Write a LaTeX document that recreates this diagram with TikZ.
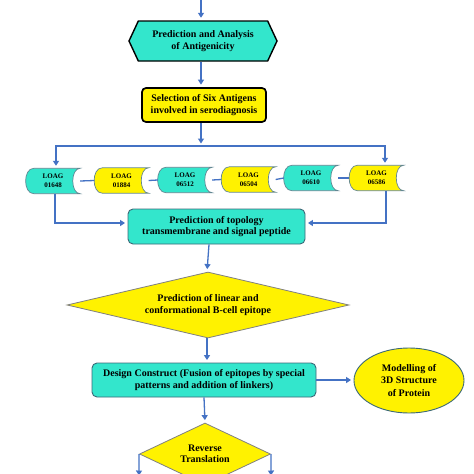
\documentclass[tikz,border=0pt]{standalone}
\usepackage{fontspec}
\setmainfont{Liberation Serif}
\usetikzlibrary{shapes.geometric,shapes.symbols,arrows.meta,backgrounds}
\definecolor{aqua}{RGB}{51,230,204}
\definecolor{flowblue}{RGB}{68,114,196}
\definecolor{edgegray}{RGB}{60,105,120}
\tikzset{
  txt/.style={align=center, inner sep=0pt, font=\bfseries\fontsize{10}{11.5}\selectfont},
  flow/.style={draw=flowblue, line width=1.3pt, shorten >=2.5pt, -{Triangle[width=6pt,length=5pt]}},
  link/.style={draw=flowblue, line width=1.3pt},
  box/.style={txt, rectangle, rounded corners=5pt, draw=edgegray, line width=0.9pt, fill=aqua},
  loag/.style={txt, font=\bfseries\fontsize{7}{9}\selectfont, minimum width=54pt, minimum height=25pt}
}
\begin{document}
\begin{tikzpicture}[x=1pt,y=-1pt]
  \clip (0,0) rectangle (474,474);
  \begin{pgfonlayer}{background}
    \fill[white] (0,0) rectangle (474,474);
  \end{pgfonlayer}
  \coordinate (start) at (201,0);
  \node [txt, signal, signal to=west and east, signal pointer angle=130, draw=black, line width=1.4pt, fill=aqua, minimum width=148pt, minimum height=40pt] (anal) at (203,41) {Prediction and Analysis\\of Antigenicity};
  \node [txt, rectangle, rounded corners=4pt, draw=black, line width=1.7pt, fill=yellow, minimum width=124pt, minimum height=34pt] (sel) at (204,105) {Selection of Six Antigens\\involved in serodiagnosis};
  \coordinate (split) at (201,146);
  % six antigens
  \foreach \n/\x/\y/\c/\num in {l1/53/181/aqua/01648, l2/121.5/180.5/yellow/01884, l3/185/180/aqua/06512, l4/248.5/179.5/yellow/06504, l5/311/178/aqua/06610, l6/376.5/178/yellow/06586}{
    \node [loag] (\n) at (\x,\y) {LOAG\\\num};
    \begin{pgfonlayer}{background}
      \draw [draw=edgegray!80, line width=0.7pt, fill=\c] ([xshift=8pt]\n.north west) to[out=180,in=180,looseness=1.1] ([xshift=8pt]\n.south west) -- (\n.south east) to[out=180,in=180] (\n.north east) -- cycle;
    \end{pgfonlayer}
  }
  \node [box, minimum width=177pt, minimum height=35pt] (topo) at (216.5,226.5) {Prediction of topology\\transmembrane and signal peptide};
  \node [txt, diamond, shape aspect=4.27, draw=gray, line width=0.8pt, fill=yellow, minimum width=282pt, minimum height=66pt] (epi) at (208,305) {Prediction of linear and\\conformational B-cell epitope};
  \node [box, minimum width=224pt, minimum height=34pt] (design) at (204,380) {Design Construct (Fusion of epitopes by special\\patterns and addition of linkers)};
  \node [txt, font=\bfseries\fontsize{10}{12.5}\selectfont, ellipse, draw=edgegray, line width=0.9pt, fill=yellow, minimum width=110pt, minimum height=65pt] (model) at (409,380.5) {Modelling of\\3D Structure\\of Protein};
  \node [txt, diamond, shape aspect=2.1, draw=gray, line width=0.8pt, fill=yellow, minimum width=131pt, minimum height=62pt] (rev) at (205,454) {Reverse\\Translation};
  \coordinate (outl) at (139,478);
  \coordinate (outr) at (271,478);

  \draw [flow] (start) -- (anal.north -| start);
  \draw [flow] (anal.south -| start) -- (sel.north -| start);
  \draw [flow] (sel.south -| split) -- (split);
  \draw [flow] (split) -| ([xshift=3pt]l1.north);
  \draw [flow] (split) -| ([xshift=8.5pt]l6.north);
  \draw [link] (l1.east) -- (l2.west);
  \draw [link] (l2.east) -- (l3.west);
  \draw [link] (l3.east) -- (l4.west);
  \draw [link] (l4.east) -- (l5.west);
  \draw [link] (l5.east) -- (l6.west);
  \draw [flow] ([xshift=2pt]l1.south) |- ([yshift=3.5pt]topo.west);
  \draw [flow] ([xshift=9.5pt]l6.south) |- ([yshift=3.5pt]topo.east);
  \draw [flow] ([xshift=-7.5pt]topo.south) -- ([xshift=-1pt]epi.north);
  \draw [flow] ([xshift=-1pt]epi.south) -- ([xshift=3pt]design.north);
  \draw [flow] (design.east) -- (design.east -| model.west);
  \draw [flow] (design.south) -- (rev.north);
  \draw [flow] (rev.west) -- (outl);
  \draw [flow] (rev.east) -- (outr);
\end{tikzpicture}
\end{document}
